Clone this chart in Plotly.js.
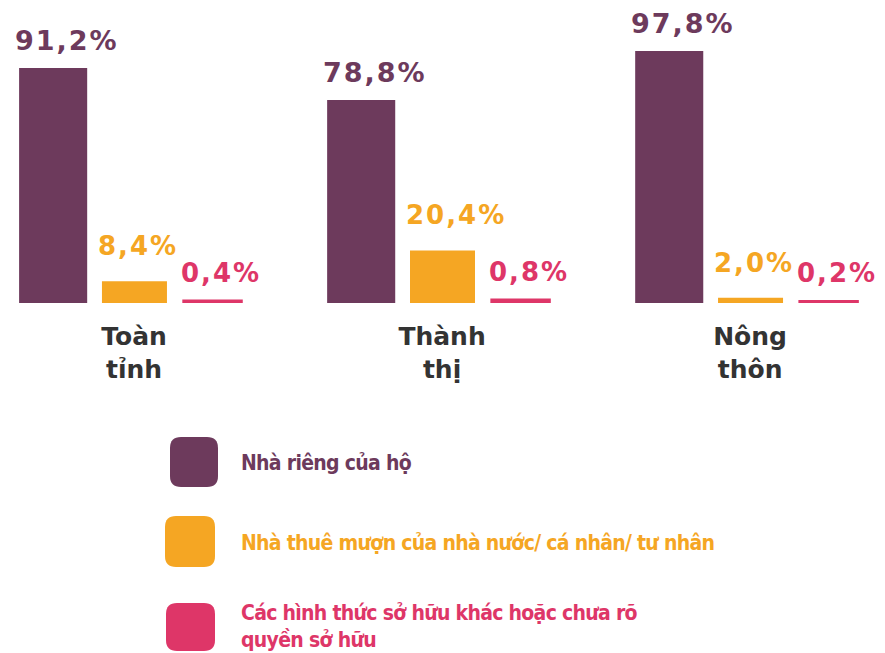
<!DOCTYPE html>
<html>
<head>
<meta charset="utf-8">
<script src="https://cdn.plot.ly/plotly-3.0.1.min.js"></script>
<style>
html,body{margin:0;padding:0;background:#fff;}
#chart{width:885px;height:653px;}
.annotation-text[style*="Verdana"]{letter-spacing:2px;}
.annotation-text[style*="Condensed"]{letter-spacing:-0.7px;}
</style>
</head>
<body>
<div id="chart"></div>
<script>
// ---- data ----
const categories = ["Toàn<br>tỉnh", "Thành<br>thị", "Nông<br>thôn"];
const seriesNames = [
  "Nhà riêng của hộ",
  "Nhà thuê mượn của nhà nước/ cá nhân/ tư nhân",
  "Các hình thức sở hữu khác hoặc chưa rõ<br>quyền sở hữu"
];
const privateHouse = [91.2, 78.8, 97.8];
const rentedHouse  = [8.4, 20.4, 2.0];
const otherForms   = [0.4, 0.8, 0.2];

// ---- style ----
const W = 885, H = 653, PLOT_H = 303;
const colors = ["#6d3a5c", "#f5a623", "#de3668"];
const barWidth  = [0.221, 0.211, 0.180];
const barOffset = [-0.373, -0.104, 0.165];
const lineW     = [0, 0, 5];
const labelSize = [27, 26, 26];
const labelGap  = [10, 18, 12];
const series = [privateHouse, rentedHouse, otherForms];

const fmt = v => v.toFixed(1).replace('.', ',') + '%';

const traces = series.map((vals, i) => ({
  type: 'bar',
  x: categories,
  y: vals,
  name: seriesNames[i],
  width: barWidth[i],
  offset: barOffset[i],
  marker: {color: colors[i], line: {color: colors[i], width: lineW[i]}},
  hoverinfo: 'skip'
}));

const annotations = [];
series.forEach((vals, i) => {
  vals.forEach((v, j) => {
    annotations.push({
      x: j + barOffset[i], y: v, xref: 'x', yref: 'y',
      xanchor: 'left', yanchor: 'bottom', xshift: -6, yshift: labelGap[i],
      text: fmt(v), showarrow: false,
      font: {family: 'DejaVu Sans, Verdana', size: labelSize[i], color: colors[i], weight: 'bold'}
    });
  });
});

// legend (drawn as rounded swatches + text)
const X = px => px / W;
const Y = py => (PLOT_H - py) / PLOT_H;
function roundRect(x0, y0, x1, y1, r) {
  const p = (x, y) => X(x) + ',' + Y(y);
  return 'M' + p(x0 + r, y0) + ' L' + p(x1 - r, y0) + ' Q' + p(x1, y0) + ' ' + p(x1, y0 + r) +
    ' L' + p(x1, y1 - r) + ' Q' + p(x1, y1) + ' ' + p(x1 - r, y1) +
    ' L' + p(x0 + r, y1) + ' Q' + p(x0, y1) + ' ' + p(x0, y1 - r) +
    ' L' + p(x0, y0 + r) + ' Q' + p(x0, y0) + ' ' + p(x0 + r, y0) + ' Z';
}
const swatches = [[170, 437, 218, 487], [165, 516, 215, 567], [166, 603, 215, 651]];
const textCenters = [463, 543, 626];
const shapes = swatches.map((b, i) => ({
  type: 'path', xref: 'paper', yref: 'paper',
  path: roundRect(b[0], b[1], b[2], b[3], 11),
  fillcolor: colors[i], line: {width: 0}
}));
seriesNames.forEach((name, i) => {
  annotations.push({
    xref: 'paper', yref: 'paper', x: X(239), y: Y(textCenters[i]),
    xanchor: 'left', yanchor: 'middle', align: 'left', showarrow: false, text: name,
    font: {family: 'DejaVu Sans Condensed, sans-serif', size: 21, color: colors[i], weight: 'bold'}
  });
});

const layout = {
  width: W, height: H,
  margin: {l: 0, r: 0, t: 0, b: H - PLOT_H, pad: 0},
  paper_bgcolor: '#ffffff', plot_bgcolor: '#ffffff',
  barmode: 'overlay',
  showlegend: false,
  xaxis: {
    type: 'category', range: [-0.435, 2.438],
    showgrid: false, zeroline: false, showline: false, ticks: '',
    ticklabelstandoff: 16,
    tickfont: {family: 'DejaVu Sans', size: 25, color: '#333333', weight: 'bold'}
  },
  yaxis: {
    range: [0, 117.6], visible: false, showgrid: false, zeroline: false
  },
  annotations: annotations,
  shapes: shapes
};

Plotly.newPlot('chart', traces, layout, {displayModeBar: false, staticPlot: true});
</script>
</body>
</html>
